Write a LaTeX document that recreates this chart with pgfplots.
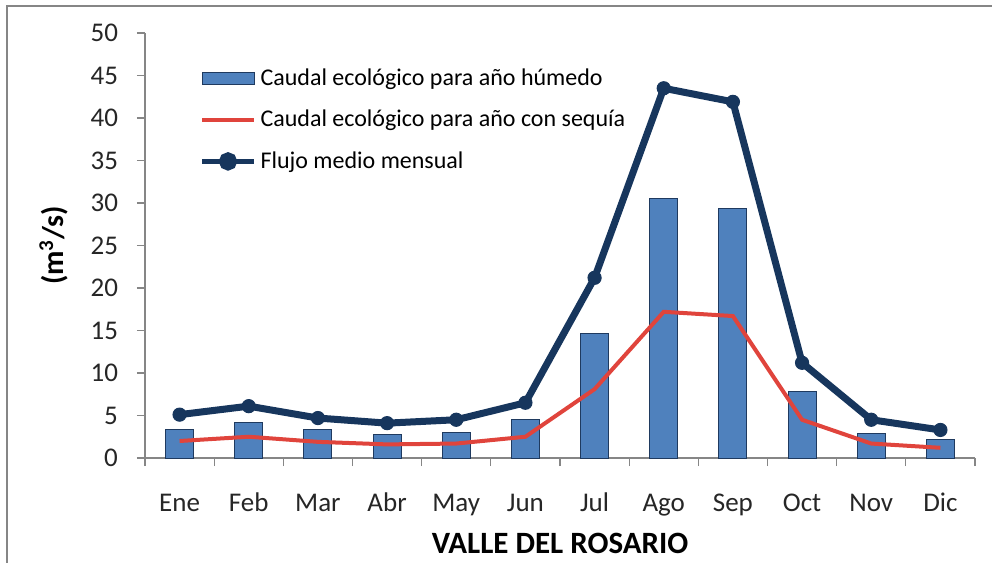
\documentclass[border=0pt]{standalone}
\usepackage{fontspec}
\setmainfont{Carlito}
\usepackage{pgfplots}
\pgfplotsset{compat=1.18}

\definecolor{barblue}{HTML}{4F81BD}
\definecolor{baredge}{HTML}{1F3A5F}
\definecolor{sequia}{HTML}{E0443C}
\definecolor{flujo}{HTML}{17365D}
\definecolor{axisgray}{HTML}{868686}

\begin{document}
\begin{tikzpicture}
\useasboundingbox (-72.5pt,-52.5pt) rectangle (423.5pt,229pt);
\draw[axisgray, line width=1.2pt] (-69pt,-52.5pt) -- (-69pt,226pt) -- (423.5pt,226pt);
\begin{axis}[
    at={(0,0)}, anchor=south west,
    scale only axis, width=415pt, height=212.5pt,
    xmin=-0.5, xmax=11.5, ymin=0, ymax=50,
    axis x line*=bottom, axis y line*=left,
    axis line style={axisgray, line width=0.6pt},
    xtick={0,...,11},
    xticklabels={Ene,Feb,Mar,Abr,May,Jun,Jul,Ago,Sep,Oct,Nov,Dic},
    minor xtick={-0.5,0.5,...,11.5},
    major x tick style={draw=none},
    minor x tick style={axisgray, line width=0.6pt},
    ytick={0,5,...,50},
    y tick style={axisgray, line width=0.6pt},
    tick align=outside,
    major tick length=4pt, minor tick length=4pt,
    /pgf/number format/assume math mode=true,
    ticklabel style={font=\fontsize{13.5}{16}\selectfont, text=black!85},
    xticklabel style={anchor=base, yshift=-22.5pt},
    yticklabel style={anchor=east, xshift=-6pt},
    xlabel={\textbf{VALLE DEL ROSARIO}},
    ylabel={\textbf{(m\textsuperscript{3}/s)}},
    every axis x label/.style={at={(axis description cs:0.5,-0.2)}, anchor=center, font=\fontsize{15.5}{18}\selectfont},
    every axis y label/.style={at={(axis description cs:-0.11,0.5)}, rotate=90, anchor=center, font=\fontsize{15}{18}\selectfont},
    legend style={at={(axis description cs:0.058,0.935)}, anchor=north west, draw=none, fill=none,
        font=\fontsize{12}{14}\selectfont, row sep=6.8pt, cells={anchor=west}},
    legend cell align=left,
]
\addplot[ybar, bar width=14pt, fill=barblue, draw=baredge, line width=0.5pt,
    legend image code/.code={\draw[fill=barblue, draw=baredge, line width=0.5pt] (0pt,-3pt) rectangle (26pt,3pt);}]
  coordinates {
(0,3.4) (1,4.2) (2,3.3) (3,2.8) (4,3.0) (5,4.5)
(6,14.7) (7,30.5) (8,29.3) (9,7.8) (10,2.9) (11,2.2)
};
\addlegendentry{Caudal ecológico para año húmedo}
\addplot[sequia, line width=2pt, no markers,
    legend image code/.code={\draw[sequia, line width=2pt] (0pt,0pt) -- (26pt,0pt);}]
  coordinates {
(0,2.0) (1,2.5) (2,1.9) (3,1.6) (4,1.7) (5,2.5)
(6,8.1) (7,17.2) (8,16.7) (9,4.5) (10,1.7) (11,1.2)
};
\addlegendentry{Caudal ecológico para año con sequía}
\addplot[flujo, line width=3.5pt, mark=*, mark size=3.3pt, mark options={fill=flujo, line width=0.5pt},
    legend image code/.code={\draw[flujo, line width=2.5pt] (0pt,0pt) -- (26pt,0pt); \fill[flujo] (13pt,0pt) circle (2.8pt);}]
  coordinates {
(0,5.1) (1,6.1) (2,4.7) (3,4.1) (4,4.5) (5,6.5)
(6,21.2) (7,43.5) (8,41.9) (9,11.2) (10,4.5) (11,3.3)
};
\addlegendentry{Flujo medio mensual}
\end{axis}
\end{tikzpicture}
\end{document}
